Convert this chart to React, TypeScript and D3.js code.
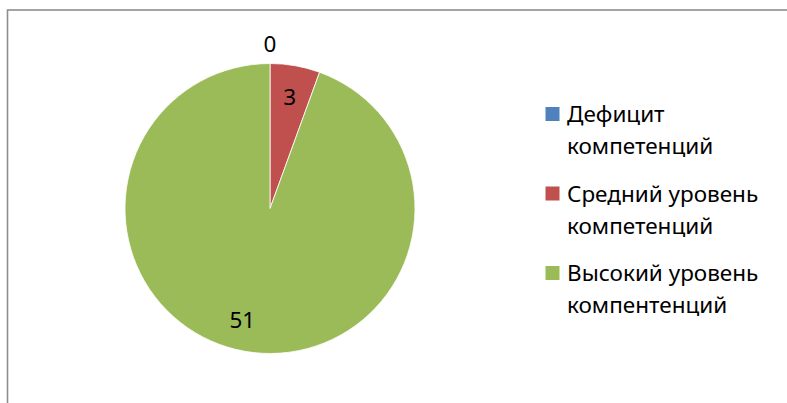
import { Component } from 'react';
import * as d3 from 'd3';

// chart data
const categories: string[][] = [
    ["Дефицит", "компетенций"],
    ["Средний уровень", "компетенций"],
    ["Высокий уровень", "компентенций"]
];
const values: number[] = [0, 3, 51];
const colors: string[] = ["#4F81BD", "#C0504D", "#9BBB59"];

export default class App extends Component {

    svgRef: SVGSVGElement | null = null;

    componentDidMount() {
        this.renderPie();
    }

    renderPie() {

        // constants
        const width = 787;
        const height = 403;
        const cx = 270;
        const cy = 208.5;
        const radius = 145;
        const font = "'Noto Sans', 'Liberation Sans', sans-serif";
        const font_size = 22.5;

        const svg = d3.select(this.svgRef);
        svg.selectAll("*").remove();

        svg.append("rect")
            .attr("width", width)
            .attr("height", height)
            .attr("fill", "#ffffff");

        // outer frame, runs off the right and bottom edge
        svg.append("rect")
            .attr("x", 7.5)
            .attr("y", 10)
            .attr("width", width + 20)
            .attr("height", height + 20)
            .attr("fill", "none")
            .attr("stroke", "#8e8e8e")
            .attr("stroke-width", 1.6);

        // pie
        const pie = d3.pie<number>()
            .sort(null)
            .value(d => d);
        const arcs = pie(values);

        const arc = d3.arc<d3.PieArcDatum<number>>()
            .innerRadius(0)
            .outerRadius(radius);

        const g = svg.append("g")
            .attr("transform", "translate(" + cx + "," + cy + ")");

        g.selectAll(".slice")
            .data(arcs).enter()
            .append("path")
            .attr("class", "slice")
            .attr("d", arc)
            .attr("fill", (d, i) => colors[i])
            .attr("stroke", (d) => d.value > 0 ? "#ffffff" : "none")
            .attr("stroke-width", 0.8);

        // data labels: inside for real slices, outside for empty one
        const inner_label = d3.arc<d3.PieArcDatum<number>>()
            .innerRadius(113)
            .outerRadius(113);
        const outer_label = d3.arc<d3.PieArcDatum<number>>()
            .innerRadius(165)
            .outerRadius(165);

        g.selectAll(".label")
            .data(arcs).enter()
            .append("text")
            .attr("class", "label")
            .attr("text-anchor", "middle")
            .attr("font-family", font)
            .attr("font-size", font_size)
            .attr("fill", "#000000")
            .attr("transform", function(d) {
                const c = d.value > 0 ? inner_label.centroid(d) : outer_label.centroid(d);
                // nudge the big slice label left like Excel's best fit
                const dx = d.value > values[1] ? -8 : 0;
                return "translate(" + (c[0] + dx) + "," + (c[1] + 8) + ")";
            })
            .text(d => String(d.value));

        // legend
        const legend_x = 545.5;
        const legend_y = 122;
        const group_step = 79.5;
        const line_step = 32.3;
        const legend = svg.append("g");

        categories.forEach(function(lines, i) {
            const base = legend_y + i * group_step;
            legend.append("rect")
                .attr("x", legend_x)
                .attr("y", base - 15)
                .attr("width", 14)
                .attr("height", 14)
                .attr("fill", colors[i]);
            const t = legend.append("text")
                .attr("font-family", font)
                .attr("font-size", font_size)
                .attr("fill", "#000000");
            lines.forEach(function(line, j) {
                t.append("tspan")
                    .attr("x", legend_x + 21.5)
                    .attr("y", base + j * line_step)
                    .text(line);
            });
        });
    }

    render() {
        return (
            <svg
                ref={(el) => { this.svgRef = el; }}
                width={787}
                height={403}
                style={{ position: "absolute", left: 0, top: 0, display: "block" }}
            />
        );
    }
}
